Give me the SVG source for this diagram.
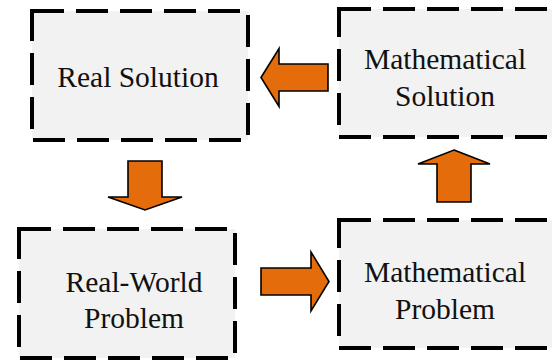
<svg xmlns="http://www.w3.org/2000/svg" width="552" height="361" viewBox="0 0 552 361">
<style>
.box{fill:#f2f2f2;stroke:#000;stroke-width:4;stroke-dasharray:32 12;}
.lbl{font-family:"Liberation Serif","Times New Roman",serif;font-size:29.5px;fill:#111;text-anchor:middle;}
.arr{fill:#e46c0a;stroke:#000;stroke-width:1.6;stroke-linejoin:miter;}
</style>
<rect width="552" height="361" fill="#fff"/>
<g id="real-solution">
<rect class="box" x="32" y="11" width="216" height="129"/>
<text class="lbl" x="138" y="87">Real Solution</text>
</g>
<g id="mathematical-solution">
<rect class="box" x="339" y="9" width="216" height="128"/>
<text class="lbl" x="445" y="69">Mathematical</text>
<text class="lbl" x="445" y="106">Solution</text>
</g>
<g id="real-world-problem">
<rect class="box" x="19" y="229" width="216" height="129"/>
<text class="lbl" x="134" y="292">Real-World</text>
<text class="lbl" x="134" y="328">Problem</text>
</g>
<g id="mathematical-problem">
<rect class="box" x="339" y="220" width="216" height="128"/>
<text class="lbl" x="445" y="282">Mathematical</text>
<text class="lbl" x="445" y="319">Problem</text>
</g>
<g id="connectors">
<polygon class="arr" points="261,77.5 279,48.5 279,64 328,64 328,91 279,91 279,106.5"/>
<polygon class="arr" points="128,161 162,161 162,197 182,197 145,210 108,197 128,197"/>
<polygon class="arr" points="454,150 490,164 471,164 471,202 437,202 437,164 418,164"/>
<polygon class="arr" points="261,268 311,268 311,252 329,281.5 311,311 311,295 261,295"/>
</g>
</svg>
